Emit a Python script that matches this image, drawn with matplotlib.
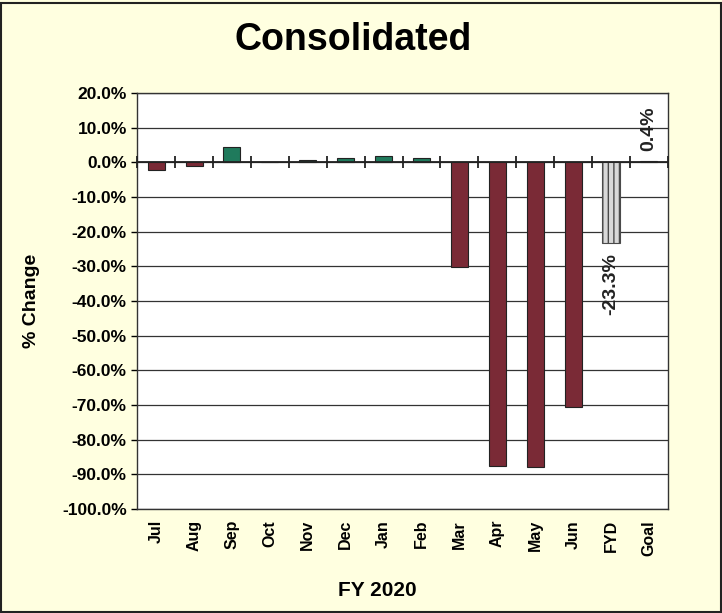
import matplotlib
matplotlib.use("Agg")
import matplotlib.pyplot as plt
import numpy as np

plt.rcParams['font.family'] = ['Liberation Sans', 'DejaVu Sans']

# Data
months = ["Jul", "Aug", "Sep", "Oct", "Nov", "Dec", "Jan", "Feb",
          "Mar", "Apr", "May", "Jun", "FYD", "Goal"]
pct_change = [-2.2, -1.0, 4.4, 0.0, 0.6, 1.3, 1.8, 1.3,
              -30.2, -87.6, -88.0, -70.7, -23.3, 0.4]
y_ticks = list(range(20, -101, -10))

maroon = "#7a2a36"
green = "#1f7a5c"
bg = "#ffffe0"

fig = plt.figure(figsize=(7.22, 6.13), dpi=100, facecolor=bg)
ax = fig.add_axes([0.19, 0.170, 0.735, 0.678])
ax.set_facecolor("white")

x = np.arange(len(months))
for i, (m, v) in enumerate(zip(months, pct_change)):
    if m == "FYD":
        ax.bar(i, v, width=0.45, facecolor="#d8d8d8", edgecolor="#4a4a4a",
               hatch="|||", linewidth=0.8, zorder=3)
    elif m == "Goal":
        ax.bar(i, v, width=0.45, facecolor="#808080", edgecolor="#333333",
               linewidth=0.8, zorder=3)
    else:
        c = green if v > 0 else maroon
        ax.bar(i, v, width=0.45, facecolor=c, edgecolor="#222222",
               linewidth=0.8, zorder=3)

# data labels on FYD and Goal
ax.text(12, pct_change[12] - 3, "%.1f%%" % pct_change[12], rotation=90,
        ha="center", va="top", fontsize=14, fontweight="bold", color="#222222")
ax.text(13, pct_change[13] + 3, "%.1f%%" % pct_change[13], rotation=90,
        ha="center", va="bottom", fontsize=14, fontweight="bold", color="#222222")

# zero axis with category boundary ticks
ax.axhline(0, color="#222222", lw=1.3, zorder=4)
ax.plot(np.arange(len(months) + 1) - 0.5, np.zeros(len(months) + 1), "|",
        color="#222222", ms=8, mew=1.3, zorder=4, clip_on=False)

ax.set_xlim(-0.5, len(months) - 0.5)
ax.set_ylim(-100, 20)
ax.set_yticks(y_ticks)
ax.set_yticklabels(["%.1f%%" % t for t in y_ticks], fontsize=12.5, fontweight="bold")
ax.set_xticks(x)
ax.set_xticklabels(months, rotation=90, fontsize=11.5, fontweight="bold")
ax.tick_params(axis="x", length=0, pad=8)
ax.tick_params(axis="y", length=4, width=1, direction="out")
ax.yaxis.grid(True, color="#333333", lw=0.9, zorder=0)
ax.set_axisbelow(True)
for s in ax.spines.values():
    s.set_color("#333333")
    s.set_linewidth(1.0)

ax.set_ylabel("% Change", fontsize=14, fontweight="bold", labelpad=16)
fig.text(0.523, 0.037, "FY 2020", ha="center", va="center",
         fontsize=15, fontweight="bold")
fig.text(0.489, 0.935, "Consolidated", ha="center", va="center",
         fontsize=27, fontweight="bold")

# outer border
fig.patches.append(plt.Rectangle((0.002, 0.002), 0.996, 0.993, transform=fig.transFigure,
                                 fill=False, edgecolor="#222222", lw=1.5))

fig.savefig("out.png", dpi=100, facecolor=bg)
